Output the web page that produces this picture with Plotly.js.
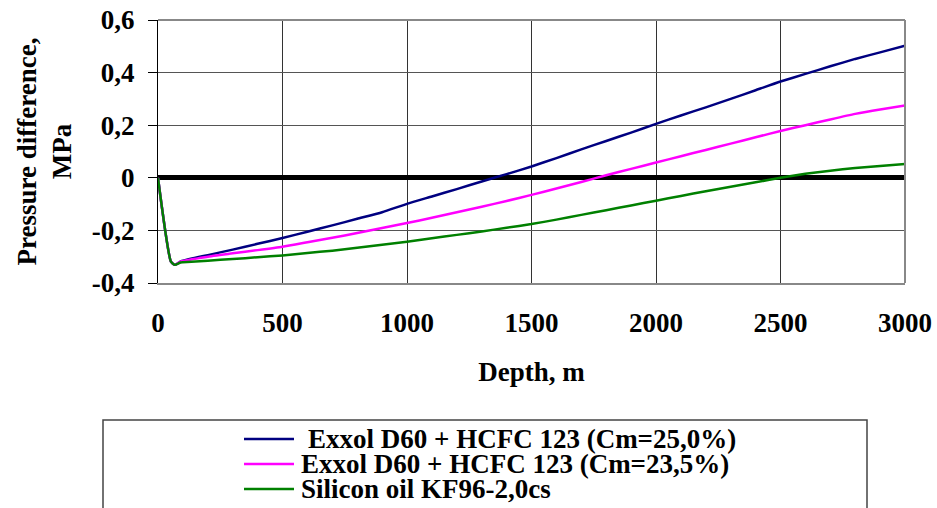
<!DOCTYPE html>
<html>
<head>
<meta charset="utf-8">
<script src="https://cdn.plot.ly/plotly-3.0.1.min.js"></script>
<style>html,body{margin:0;padding:0;background:#fff;}#chart{width:937px;height:508px;}</style>
</head>
<body>
<div id="chart"></div>
<script>
// ---- data ----
const depthBlue = [0, 52, 68, 92, 200, 300, 400, 500, 600, 700, 800, 900, 1000, 1100, 1200, 1300, 1400, 1500, 1600, 1700, 1800, 1900, 2000, 2100, 2200, 2300, 2400, 2500, 2600, 2700, 2800, 2900, 3000];
const exxol25 = [0, -0.319, -0.331, -0.318, -0.294, -0.273, -0.251, -0.229, -0.205, -0.181, -0.156, -0.131, -0.099, -0.071, -0.043, -0.014, 0.014, 0.043, 0.075, 0.108, 0.14, 0.172, 0.205, 0.237, 0.268, 0.3, 0.333, 0.366, 0.395, 0.424, 0.452, 0.477, 0.502];
const depthMag = [0, 52, 68, 92, 200, 300, 400, 500, 600, 700, 800, 900, 1000, 1100, 1200, 1300, 1400, 1500, 1600, 1700, 1800, 1900, 2000, 2100, 2200, 2300, 2400, 2500, 2600, 2700, 2800, 2900, 3000];
const exxol235 = [0, -0.319, -0.331, -0.318, -0.300, -0.287, -0.275, -0.262, -0.245, -0.228, -0.210, -0.191, -0.172, -0.152, -0.131, -0.110, -0.088, -0.065, -0.041, -0.016, 0.010, 0.034, 0.058, 0.082, 0.106, 0.130, 0.154, 0.178, 0.200, 0.222, 0.243, 0.260, 0.275];
const depthGreen = [0, 52, 68, 90, 100, 200, 300, 400, 500, 600, 700, 800, 900, 1000, 1100, 1200, 1300, 1400, 1500, 1600, 1700, 1800, 1900, 2000, 2100, 2200, 2300, 2400, 2500, 2600, 2700, 2800, 2900, 3000];
const siliconOil = [0, -0.319, -0.331, -0.322, -0.321, -0.315, -0.309, -0.302, -0.295, -0.286, -0.277, -0.266, -0.255, -0.243, -0.230, -0.217, -0.204, -0.190, -0.176, -0.159, -0.141, -0.123, -0.105, -0.087, -0.069, -0.051, -0.034, -0.017, 0.000, 0.015, 0.027, 0.037, 0.045, 0.052];

const seriesNames = [" Exxol D60 + HCFC 123 (Cm=25,0%)", "Exxol D60 + HCFC 123 (Cm=23,5%)", "Silicon oil KF96-2,0cs"];
const seriesColors = ["#000080", "#ff00ff", "#008000"];
const xTickVals = [0, 500, 1000, 1500, 2000, 2500, 3000];
const xTickText = ["0", "500", "1000", "1500", "2000", "2500", "3000"];
const yTickVals = [-0.4, -0.2, 0, 0.2, 0.4, 0.6];
const yTickText = ["-0,4", "-0,2", "0", "0,2", "0,4", "0,6"];

// ---- layout helpers ----
const W = 937, H = 508, L = 158, R = 32, T = 20, B = 225;
const pw = W - L - R, ph = H - T - B;
const px = x => (x - L) / pw;
const py = y => (H - B - y) / ph;
const FONT = "Liberation Serif, Times New Roman, serif";

const xs = [depthBlue, depthMag, depthGreen];
const ys = [exxol25, exxol235, siliconOil];
const traces = ys.map((y, i) => ({
  x: xs[i], y: y, type: "scatter", mode: "lines", name: seriesNames[i],
  line: {color: seriesColors[i], width: 2.5, shape: "spline", smoothing: 0.5},
  showlegend: false, hoverinfo: "skip"
}));

const legendRows = [439, 464, 489];
const legendTextX = [306, 299, 299];
const shapes = [
  // top and right plot border (gray)
  {type: "line", xref: "paper", yref: "paper", x0: 0, x1: 1, y0: 1, y1: 1, line: {color: "#888", width: 2}},
  {type: "line", xref: "paper", yref: "paper", x0: 1, x1: 1, y0: 0, y1: 1, line: {color: "#888", width: 2}},
  // legend box
  {type: "rect", xref: "paper", yref: "paper", x0: px(103), x1: px(867), y0: py(420), y1: py(540), line: {color: "#444", width: 1.5}, fillcolor: "rgba(0,0,0,0)"}
];
const annotations = [];
seriesNames.forEach((n, i) => {
  shapes.push({type: "line", xref: "paper", yref: "paper", x0: px(244), x1: px(294), y0: py(legendRows[i]), y1: py(legendRows[i]), line: {color: seriesColors[i], width: 2.5}});
  annotations.push({xref: "paper", yref: "paper", x: px(legendTextX[i]), y: py(legendRows[i]), xanchor: "left", yanchor: "middle",
    text: n.trim(), showarrow: false, font: {family: FONT, size: 27, color: "#000", weight: "bold"}});
});

const layout = {
  width: W, height: H,
  margin: {l: L, r: R, t: T, b: B, pad: 0},
  paper_bgcolor: "#fff", plot_bgcolor: "#fff",
  showlegend: false,
  font: {family: FONT, size: 27, color: "#000", weight: "bold"},
  xaxis: {
    range: [0, 3000], tickvals: xTickVals, ticktext: xTickText,
    showgrid: true, gridcolor: "#333", gridwidth: 1,
    showline: true, linecolor: "#888", linewidth: 2,
    zeroline: false, ticks: "outside", ticklen: 0, ticklabelstandoff: 15,
    tickfont: {family: FONT, size: 27, color: "#000", weight: "bold"},
    title: {text: "Depth, m", standoff: 25, font: {family: FONT, size: 27, color: "#000", weight: "bold"}},
    fixedrange: true
  },
  yaxis: {
    range: [-0.4, 0.6], tickvals: yTickVals, ticktext: yTickText,
    showgrid: true, gridcolor: "#555", gridwidth: 1,
    showline: true, linecolor: "#000", linewidth: 1,
    zeroline: true, zerolinecolor: "#000", zerolinewidth: 5,
    ticks: "outside", ticklen: 9, tickcolor: "#000", tickwidth: 1, ticklabelstandoff: 8,
    tickfont: {family: FONT, size: 27, color: "#000", weight: "bold"},
    title: {text: "Pressure difference,<br>MPa", standoff: 12, font: {family: FONT, size: 27, color: "#000", weight: "bold"}},
    fixedrange: true
  },
  shapes: shapes,
  annotations: annotations
};

Plotly.newPlot("chart", traces, layout, {staticPlot: true, displayModeBar: false});
</script>
</body>
</html>
